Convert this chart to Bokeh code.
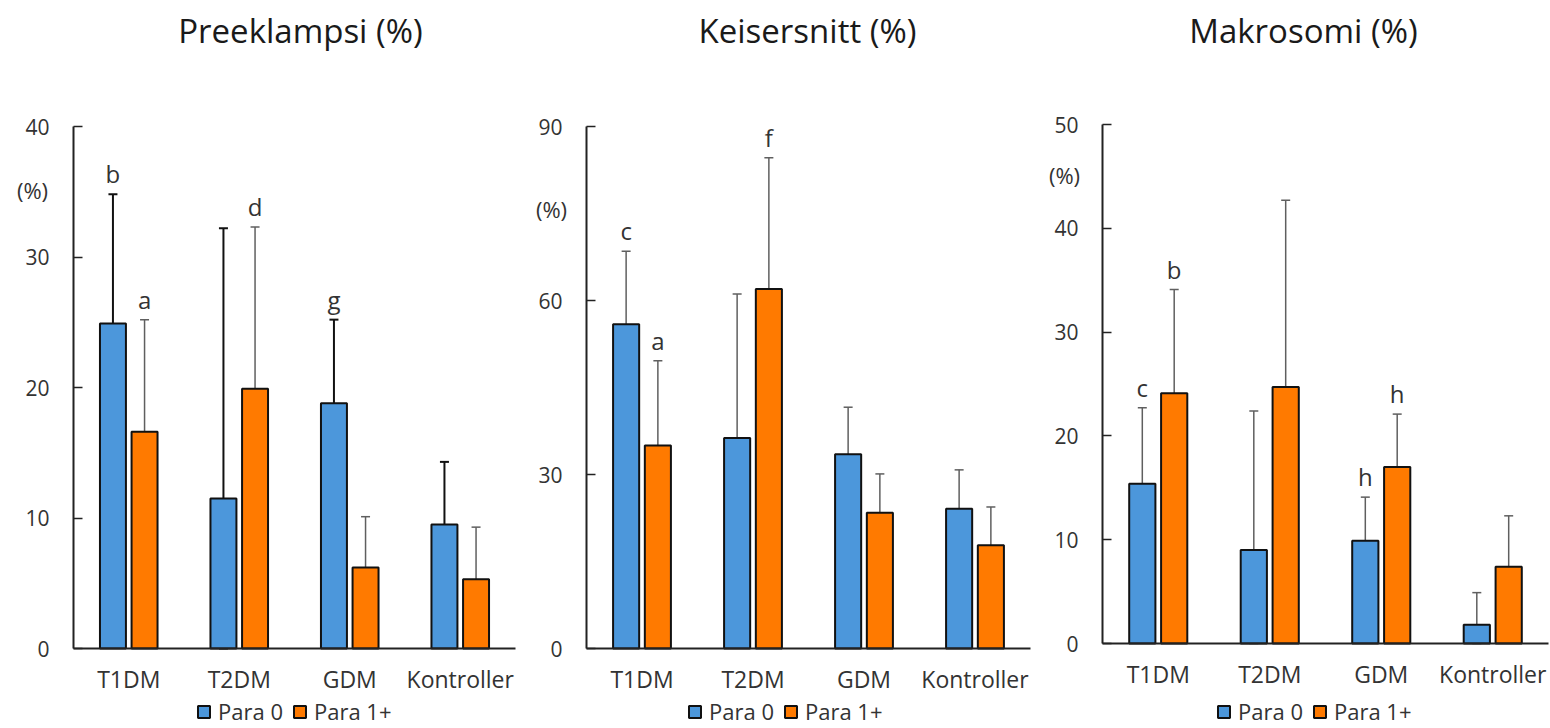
from bokeh.plotting import figure
from bokeh.models import (Range1d, FixedTicker, Whisker, TeeHead, ColumnDataSource,
                          Label, Legend, LegendItem, LinearAxis)
from bokeh.layouts import row
from bokeh.embed import file_html
from bokeh.resources import INLINE
from bokeh.core.properties import value

categories = ["T1DM", "T2DM", "GDM", "Kontroller"]
series_names = ["Para 0", "Para 1+"]

# Preeklampsi (%)
pre_para0 = [24.9, 11.5, 18.8, 9.5]
pre_para0_lo = [14.9, 0.0, 12.4, 4.6]
pre_para0_hi = [34.8, 32.2, 25.2, 14.3]
pre_para1 = [16.6, 19.9, 6.2, 5.3]
pre_para1_lo = [8.1, 7.6, 2.1, 1.2]
pre_para1_hi = [25.2, 32.3, 10.1, 9.3]
pre_sig0 = ["b", "", "g", ""]
pre_sig1 = ["a", "d", "", ""]

# Keisersnitt (%)
kei_para0 = [55.9, 36.3, 33.5, 24.1]
kei_para0_lo = [43.2, 11.2, 25.8, 17.4]
kei_para0_hi = [68.5, 61.1, 41.6, 30.8]
kei_para1 = [35.0, 62.0, 23.4, 17.8]
kei_para1_lo = [19.8, 39.1, 16.7, 10.8]
kei_para1_hi = [49.6, 84.6, 30.1, 24.4]
kei_sig0 = ["c", "", "", ""]
kei_sig1 = ["a", "f", "", ""]

# Makrosomi (%)
mak_para0 = [15.4, 9.0, 9.9, 1.8]
mak_para0_lo = [8.2, 0.0, 5.7, 0.0]
mak_para0_hi = [22.7, 22.4, 14.1, 4.9]
mak_para1 = [24.1, 24.7, 17.0, 7.4]
mak_para1_lo = [13.9, 6.7, 12.1, 2.8]
mak_para1_hi = [34.1, 42.7, 22.1, 12.3]
mak_sig0 = ["c", "", "h", ""]
mak_sig1 = ["b", "", "h", ""]

titles = ["Preeklampsi (%)", "Keisersnitt (%)", "Makrosomi (%)"]
y_max = [40, 90, 50]
y_ticks = [[0, 10, 20, 30, 40], [0, 30, 60, 90], [0, 10, 20, 30, 40, 50]]

BLUE = "#4C97DB"
ORANGE = "#FF7A00"
FONT = "Open Sans"
TXT = "#333333"
OFF = 0.143
BW = 0.235
H = 728


def panel(title, ymax, ticks, p0, p0lo, p0hi, p1, p1lo, p1hi, s0, s1,
          width, ax_left, ax_right, ax_top, ax_bottom,
          title_px, pct_px, legend_px, whisk0_color, whisk0_width):
    ncat = len(categories)
    xu = (ax_right - ax_left) / ncat          # pixels per category
    yu = (ax_bottom - ax_top) / ymax          # pixels per unit
    x_range = Range1d(-ax_left / xu, ncat + (width - ax_right) / xu)
    y_range = Range1d(-(H - ax_bottom) / yu, ymax + ax_top / yu)

    def dx(px):
        return (px - ax_left) / xu

    def dy(py):
        return (ax_bottom - py) / yu

    p = figure(x_range=x_range, y_range=y_range, width=width, height=H,
               output_backend="svg", toolbar_location=None,
               x_axis_location=None, y_axis_location=None, min_border=0)
    p.outline_line_color = None
    p.grid.visible = False

    idx = list(range(ncat))
    x0 = [i + 0.5 - OFF for i in idx]
    x1 = [i + 0.5 + OFF for i in idx]
    src = ColumnDataSource(dict(x0=x0, x1=x1, p0=p0, p0lo=p0lo, p0hi=p0hi,
                                p1=p1, p1lo=p1lo, p1hi=p1hi, s0=s0, s1=s1))
    r0 = p.vbar(x="x0", top="p0", width=BW, source=src,
                fill_color=BLUE, line_color="#111111", line_width=2)
    r1 = p.vbar(x="x1", top="p1", width=BW, source=src,
                fill_color=ORANGE, line_color="#111111", line_width=2)

    w0 = Whisker(base="x0", lower="p0lo", upper="p0hi", source=src,
                 line_color=whisk0_color, line_width=whisk0_width,
                 upper_head=TeeHead(size=9, line_color=whisk0_color, line_width=whisk0_width),
                 lower_head=TeeHead(size=9, line_color=whisk0_color, line_width=whisk0_width))
    w1 = Whisker(base="x1", lower="p1lo", upper="p1hi", source=src,
                 line_color="#5f5f5f", line_width=1.5,
                 upper_head=TeeHead(size=9, line_color="#5f5f5f", line_width=1.5),
                 lower_head=TeeHead(size=9, line_color="#5f5f5f", line_width=1.5))
    p.add_layout(w0)
    p.add_layout(w1)

    p.text(x="x0", y="p0hi", text="s0", source=src, text_align="center",
           text_baseline="bottom", y_offset=-4, text_font=value(FONT),
           text_font_size="24px", text_color=TXT)
    p.text(x="x1", y="p1hi", text="s1", source=src, text_align="center",
           text_baseline="bottom", y_offset=-4, text_font=value(FONT),
           text_font_size="24px", text_color=TXT)

    # y axis
    yax = LinearAxis(fixed_location=0, bounds=(0, ymax), ticker=FixedTicker(ticks=ticks))
    yax.major_tick_in = 9
    yax.major_tick_out = 0
    yax.minor_tick_line_color = None
    yax.axis_line_color = "#222222"
    yax.axis_line_width = 2
    yax.major_tick_line_color = "#222222"
    yax.major_tick_line_width = 1.5
    yax.major_label_standoff = 24
    yax.major_label_text_font = FONT
    yax.major_label_text_font_size = "21px"
    yax.major_label_text_color = TXT
    p.add_layout(yax, "left")

    # x axis
    xax = LinearAxis(fixed_location=0, bounds=(0, ncat),
                     ticker=FixedTicker(ticks=[i + 0.5 for i in idx]))
    xax.major_label_overrides = {i + 0.5: c for i, c in zip(idx, categories)}
    xax.major_tick_line_color = None
    xax.minor_tick_line_color = None
    xax.axis_line_color = "#222222"
    xax.axis_line_width = 2
    xax.major_label_standoff = 8
    xax.major_label_text_font = FONT
    xax.major_label_text_font_size = "23px"
    xax.major_label_text_color = TXT
    p.add_layout(xax, "below")

    p.add_layout(Label(x=dx(title_px[0]), y=dy(title_px[1]), text=title, text_align="center",
                       text_baseline="middle", text_font=FONT, text_font_size="33px",
                       text_color="#1a1a1a"))
    p.add_layout(Label(x=dx(pct_px[0]), y=dy(pct_px[1]), text="(%)", text_align="center",
                       text_baseline="middle", text_font=FONT, text_font_size="22px",
                       text_color=TXT))

    legend = Legend(items=[LegendItem(label=series_names[0], renderers=[r0]),
                           LegendItem(label=series_names[1], renderers=[r1])],
                    orientation="horizontal", location=legend_px,
                    label_text_font=FONT, label_text_font_size="22px", label_text_color=TXT,
                    glyph_width=15, glyph_height=15, label_standoff=7, spacing=9,
                    border_line_color=None, background_fill_alpha=0, padding=0, margin=0)
    p.add_layout(legend)
    return p


p1 = panel(titles[0], y_max[0], y_ticks[0], pre_para0, pre_para0_lo, pre_para0_hi,
           pre_para1, pre_para1_lo, pre_para1_hi, pre_sig0, pre_sig1,
           width=520, ax_left=73, ax_right=515, ax_top=126, ax_bottom=648,
           title_px=(300, 30), pct_px=(32, 189), legend_px=(196, 2),
           whisk0_color="#111111", whisk0_width=2)
p2 = panel(titles[1], y_max[1], y_ticks[1], kei_para0, kei_para0_lo, kei_para0_hi,
           kei_para1, kei_para1_lo, kei_para1_hi, kei_sig0, kei_sig1,
           width=515, ax_left=66, ax_right=510, ax_top=126, ax_bottom=648,
           title_px=(287, 30), pct_px=(31, 208), legend_px=(167, 2),
           whisk0_color="#5f5f5f", whisk0_width=1.5)
p3 = panel(titles[2], y_max[2], y_ticks[2], mak_para0, mak_para0_lo, mak_para0_hi,
           mak_para1, mak_para1_lo, mak_para1_hi, mak_sig0, mak_sig1,
           width=515, ax_left=67, ax_right=513, ax_top=124, ax_bottom=643,
           title_px=(268, 30), pct_px=(29, 174), legend_px=(181, 2),
           whisk0_color="#5f5f5f", whisk0_width=1.5)

layout = row(p1, p2, p3)
open("out.html", "w").write(file_html(layout, INLINE))
